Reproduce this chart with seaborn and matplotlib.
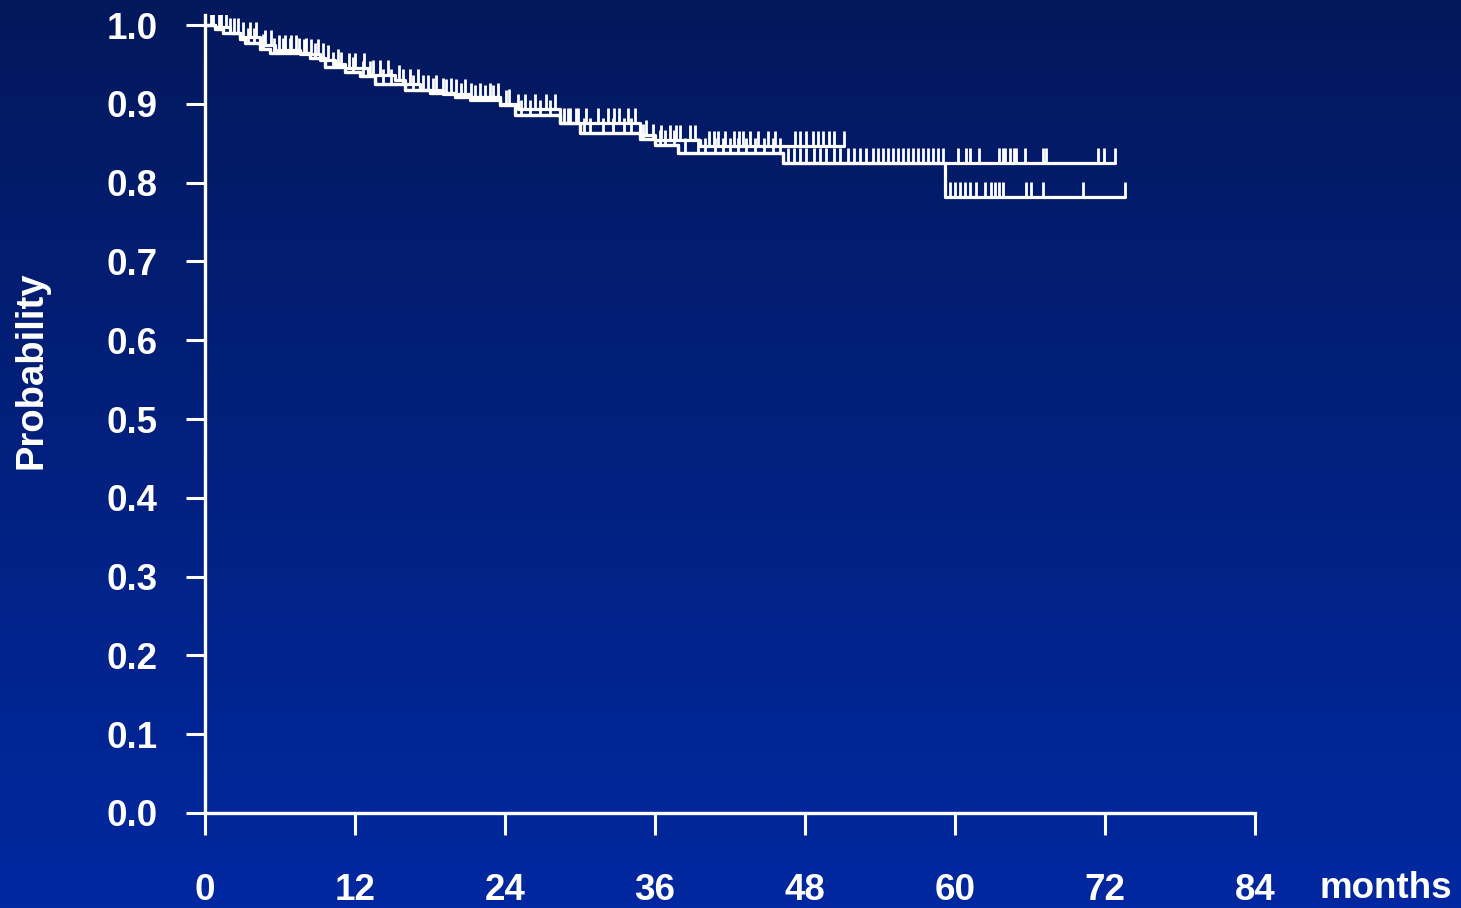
import numpy as np
import pandas as pd
import matplotlib
matplotlib.use("Agg")
import matplotlib.pyplot as plt
import seaborn as sns
from matplotlib.colors import LinearSegmentedColormap

# ---------------- data ----------------
x_ticks = [0, 12, 24, 36, 48, 60, 72, 84]
y_ticks = [0.0, 0.1, 0.2, 0.3, 0.4, 0.5, 0.6, 0.7, 0.8, 0.9, 1.0]
x_unit = "months"
y_title = "Probability"

# curve A (upper track, follow-up to ~51 months)
a_time = [0, 0.8, 2.0, 2.8, 4.4, 5.6, 7.6, 9.2, 10.4, 11.2, 13.0, 15.2, 16.0, 17.2,
          19.0, 21.2, 23.6, 25.0, 28.4, 34.8, 36.0, 39.6]
a_surv = [1.0, 0.997, 0.990, 0.985, 0.975, 0.968, 0.963, 0.955, 0.950, 0.945, 0.937,
          0.930, 0.925, 0.918, 0.912, 0.905, 0.900, 0.894, 0.876, 0.860, 0.854, 0.846]
a_end = 51.1
a_cens = [0.5, 1.1, 1.7, 2.3, 3.0, 3.6, 4.1, 4.8, 5.3, 5.9, 6.4, 6.9, 7.3, 7.9, 8.5,
          9.0, 9.8, 10.6, 11.5, 12.0, 12.7, 13.4, 14.0, 14.6, 15.5, 16.4, 17.0, 17.8,
          18.5, 19.3, 20.1, 20.8, 21.6, 22.4, 23.0, 24.3, 25.0, 25.6, 26.4, 27.3, 28.0,
          29.2, 29.8, 30.5, 31.4, 32.2, 32.7, 33.1, 33.8, 34.4, 35.3, 36.5, 37.2, 37.7,
          38.0, 38.8, 39.2, 40.3, 40.7, 41.0, 41.6, 42.3, 42.7, 43.0, 43.6, 44.2, 45.0,
          45.6, 47.2, 47.6, 48.1, 48.6, 49.0, 49.4, 49.9, 50.3, 51.1]

# curve B (lower track, follow-up to ~73 months)
b_time = [0, 0.8, 1.4, 2.8, 3.2, 4.4, 5.2, 8.4, 9.6, 11.2, 12.4, 13.6, 16.0, 18.0,
          20.0, 23.6, 24.8, 28.4, 30.0, 34.8, 36.0, 37.8, 46.2]
b_surv = [1.0, 0.995, 0.990, 0.982, 0.977, 0.970, 0.965, 0.958, 0.947, 0.940, 0.935,
          0.925, 0.918, 0.914, 0.908, 0.898, 0.886, 0.876, 0.863, 0.855, 0.848, 0.838,
          0.825]
b_end = 72.8
b_cens = [0.6, 1.3, 2.0, 2.6, 3.4, 3.9, 4.6, 5.5, 6.2, 6.8, 7.5, 8.1, 8.8, 9.4, 10.2,
          10.9, 11.8, 12.6, 13.2, 14.2, 14.9, 15.8, 16.6, 17.4, 18.2, 19.0, 19.7, 20.5,
          21.3, 22.0, 22.8, 23.4, 24.1, 25.3, 26.0, 26.8, 27.6, 28.7, 29.0, 29.7, 30.3,
          30.8, 31.8, 32.6, 33.5, 34.1, 35.0, 35.8, 36.4, 36.8, 37.5, 38.4, 39.4, 40.0,
          40.8, 41.4, 42.0, 42.6, 43.3, 44.0, 44.7, 45.4, 46.0, 46.6, 47.1, 47.6, 48.1,
          48.7, 49.2, 49.7, 50.3, 50.8, 51.4, 51.9, 52.4, 52.9, 53.4, 53.8, 54.2, 54.6,
          55.0, 55.4, 55.8, 56.2, 56.6, 57.0, 57.4, 57.8, 58.2, 58.6, 59.0, 60.2, 60.9,
          61.2, 61.9, 63.5, 63.8, 64.0, 64.4, 64.7, 64.9, 65.6, 67.0, 67.3, 71.4, 71.9,
          72.8]

# curve C (shares lower track, drops at ~59 months)
c_time = [0, 0.8, 1.4, 2.8, 3.2, 4.4, 5.2, 8.4, 9.6, 11.2, 12.4, 13.6, 16.0, 18.0,
          20.0, 23.6, 24.8, 28.4, 30.0, 34.8, 36.0, 37.8, 46.2, 59.2]
c_surv = [1.0, 0.995, 0.990, 0.982, 0.977, 0.970, 0.965, 0.958, 0.947, 0.940, 0.935,
          0.925, 0.918, 0.914, 0.908, 0.898, 0.886, 0.876, 0.863, 0.855, 0.848, 0.838,
          0.825, 0.782]
c_end = 73.6
c_cens = [59.6, 60.0, 60.4, 60.8, 61.2, 61.7, 62.4, 62.9, 63.2, 63.5, 63.8, 65.7,
          66.1, 67.0, 70.2, 73.6]

curves = [
    ("A", a_time, a_surv, a_end, a_cens),
    ("B", b_time, b_surv, b_end, b_cens),
    ("C", c_time, c_surv, c_end, c_cens),
]

# ---------------- style ----------------
W, H, DPI = 14.61, 9.08, 100
FONT = ["Liberation Sans", "DejaVu Sans"]
sns.set_theme(style="white")
plt.rcParams["font.family"] = FONT
plt.rcParams["font.weight"] = "bold"
FS = 26.5

fig = plt.figure(figsize=(W, H), dpi=DPI)

# gradient background
bg = fig.add_axes([0, 0, 1, 1], zorder=-10)
cmap = LinearSegmentedColormap.from_list("bg", ["#03185c", "#0028a0"])
grad = np.linspace(0, 1, 256).reshape(-1, 1)
bg.imshow(grad, aspect="auto", cmap=cmap, extent=[0, 1, 0, 1], origin="upper")
bg.set_axis_off()

fig_w_px, fig_h_px = 1461, 908
left_px, right_px, bottom_px, top_px = 205, 1255, 813, 15
ax = fig.add_axes([left_px / fig_w_px, 1 - bottom_px / fig_h_px,
                   (right_px - left_px) / fig_w_px, (bottom_px - top_px) / fig_h_px])
ax.patch.set_alpha(0)

white = "white"
for name, t, s, end, cens in curves:
    df = pd.DataFrame({"time": list(t) + [end], "surv": list(s) + [s[-1]]})
    sns.lineplot(data=df, x="time", y="surv", drawstyle="steps-post", color=white,
                 linewidth=2.3, estimator=None, sort=False, ax=ax, legend=False)
    t_arr = np.asarray(t)
    s_arr = np.asarray(s)
    ce = np.asarray(cens)
    idx = np.searchsorted(t_arr, ce, side="right") - 1
    yv = s_arr[idx]
    ax.vlines(ce, yv, yv + 0.019, color=white, linewidth=2.0)

ax.set_xlim(0, 84)
ax.set_ylim(0, 1.0 + 10 / 788)
ax.set_xticks(x_ticks)
ax.set_xticklabels([str(v) for v in x_ticks])
ax.set_yticks(y_ticks)
ax.set_yticklabels([f"{v:.1f}" for v in y_ticks])
ax.set_xlabel("")
ax.set_ylabel("")

for side in ["top", "right"]:
    ax.spines[side].set_visible(False)
for side in ["left", "bottom"]:
    ax.spines[side].set_color(white)
    ax.spines[side].set_linewidth(2.4)

ax.tick_params(axis="x", direction="out", length=16, width=2.2, color=white,
               labelcolor=white, labelsize=FS, pad=27.5, bottom=True)
ax.tick_params(axis="y", direction="out", length=14, width=2.2, color=white,
               labelcolor=white, labelsize=FS, pad=20, left=True)
for lab in ax.get_xticklabels() + ax.get_yticklabels():
    lab.set_fontweight("bold")
    lab.set_family(FONT)

fig.text(32 / fig_w_px, 1 - 370 / fig_h_px, y_title, rotation=90, ha="center",
         va="center", color=white, fontsize=27.5, fontweight="bold", family=FONT)
fig.text(1386 / fig_w_px, 1 - 888 / fig_h_px, x_unit, ha="center", va="center",
         color=white, fontsize=FS, fontweight="bold", family=FONT)

fig.savefig("out.png", dpi=DPI)
